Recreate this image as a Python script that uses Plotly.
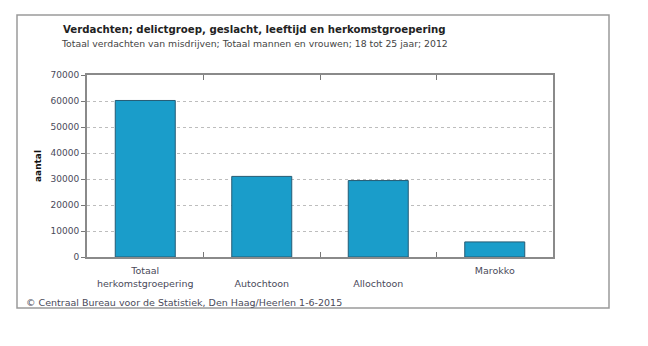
import plotly.graph_objects as go

categories = ["Totaal herkomstgroepering", "Autochtoon", "Allochtoon", "Marokko"]
tick_labels = ["Totaal<br>herkomstgroepering", "<br>Autochtoon", "<br>Allochtoon", "Marokko"]
values = [60200, 31000, 29400, 5800]
y_ticks = [0, 10000, 20000, 30000, 40000, 50000, 60000, 70000]

W, H = 648, 346
L, R, T, B = 87, 553, 75, 257
pw, ph = R - L, B - T

def px(x):
    return (x - L) / pw

def py(y):
    return (B - y) / ph

fig = go.Figure()
fig.add_trace(go.Bar(
    x=categories, y=values,
    marker=dict(color="#1a9dca", line=dict(color="#245b74", width=1)),
    width=0.515,
))

font = "DejaVu Sans"
fig.update_layout(
    width=W, height=H,
    margin=dict(l=L, r=W - R, t=T, b=H - B),
    paper_bgcolor="white", plot_bgcolor="white",
    showlegend=False,
    font=dict(family=font, size=9, color="#444444"),
    xaxis=dict(
        tickmode="array", tickvals=categories, ticktext=tick_labels,
        tickson="boundaries", ticks="inside", ticklen=5, tickcolor="#777777",
        showline=True, linecolor="#8a8a8a", linewidth=2, mirror="ticks",
        showgrid=False, tickfont=dict(size=9.5, color="#4a4a5a"),
        ticklabelstandoff=4,
        range=[-0.5, 3.5],
    ),
    yaxis=dict(
        range=[0, 70000], tickmode="array", tickvals=y_ticks,
        ticktext=[str(v) for v in y_ticks],
        ticks="outside", ticklen=4, tickcolor="#777777",
        showline=True, linecolor="#8a8a8a", linewidth=2, mirror=True,
        showgrid=True, gridcolor="#bdbdbd", griddash="dot", gridwidth=1,
        tickfont=dict(size=9, color="#4a4a5a"),
        zeroline=False,
        title=dict(text="<b>aantal</b>", font=dict(size=9, color="#111111"), standoff=7),
    ),
    shapes=[dict(type="rect", xref="paper", yref="paper",
                 x0=px(17), x1=px(609), y0=py(308), y1=py(15),
                 line=dict(color="#9a9a9a", width=1.5), fillcolor="rgba(0,0,0,0)",
                 layer="below")],
    annotations=[
        dict(text="<b>Verdachten; delictgroep, geslacht, leeftijd en herkomstgroepering</b>",
             xref="paper", yref="paper", x=px(254), y=py(29), xanchor="center", yanchor="middle",
             showarrow=False, font=dict(family=font, size=10.2, color="#222222")),
        dict(text="Totaal verdachten van misdrijven; Totaal mannen en vrouwen; 18 tot 25 jaar; 2012",
             xref="paper", yref="paper", x=px(254), y=py(44), xanchor="center", yanchor="middle",
             showarrow=False, font=dict(family=font, size=9.3, color="#444444")),
        dict(text="© Centraal Bureau voor de Statistiek, Den Haag/Heerlen 1-6-2015",
             xref="paper", yref="paper", x=px(24), y=py(302), xanchor="left", yanchor="middle",
             showarrow=False, font=dict(family=font, size=9.5, color="#4a4a5a")),
    ],
)

fig.write_html("out.html")
